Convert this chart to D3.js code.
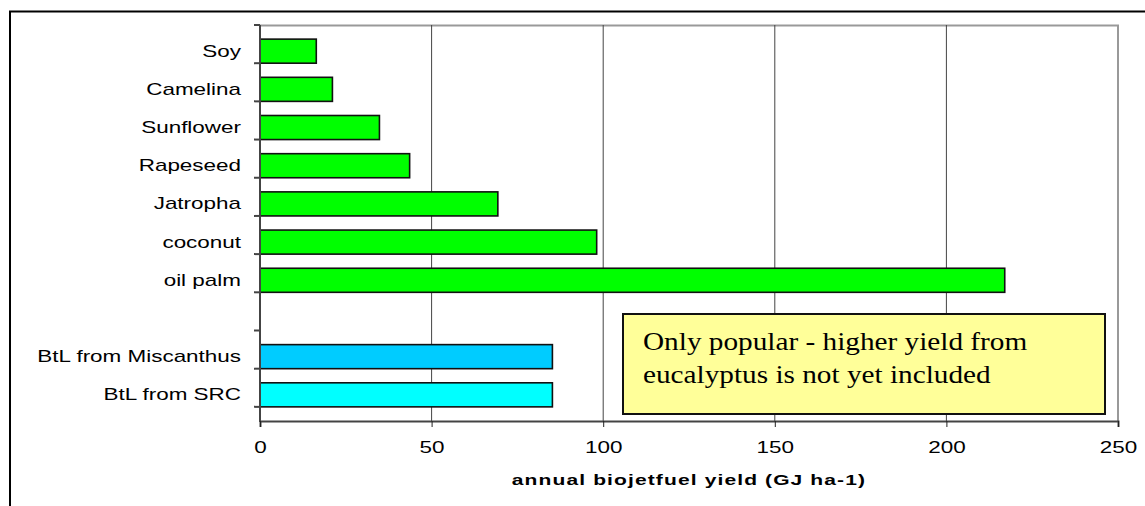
<!DOCTYPE html>
<html>
<head>
<meta charset="utf-8">
<script src="https://cdn.jsdelivr.net/npm/d3@7"></script>
<style>
  body { margin: 0; background: #fff; }
  svg { display: block; font-family: "Liberation Sans", Arial, sans-serif; }
</style>
</head>
<body>
<svg width="1145" height="506"></svg>
<script>
  // chart data
  const categories = ['Soy', 'Camelina', 'Sunflower', 'Rapeseed', 'Jatropha', 'coconut', 'oil palm', 'gap', 'BtL from Miscanthus', 'BtL from SRC'];
  const yields = [16.4, 21.1, 34.8, 43.6, 69.3, 98.1, 217, null, 85.2, 85.2];
  const barColors = ['#00ff00', '#00ff00', '#00ff00', '#00ff00', '#00ff00', '#00ff00', '#00ff00', null, '#00ccff', '#00ffff'];
  const xTicks = [0, 50, 100, 150, 200, 250];
  const xAxisLabel = 'annual biojetfuel yield (GJ ha-1)';
  const noteLines = ['Only popular - higher yield from', 'eucalyptus is not yet included'];

  const data = categories.map((c, i) => ({ cat: c, value: yields[i], color: barColors[i] }))
    .filter(d => d.value !== null);

  const svg = d3.select('svg');
  const W = +svg.attr('width');
  const H = +svg.attr('height');

  // text in the picture is stretched sideways: widen each text to match
  const stretch = (sel, k) => sel.each(function () {
    const w = this.getComputedTextLength();
    if (w > 0) d3.select(this).attr('textLength', w * k).attr('lengthAdjust', 'spacingAndGlyphs');
  });

  // outer frame: only its top and left sides fall inside the picture
  svg.append('path')
    .attr('d', `M${W},11.5H10V${H}`)
    .attr('fill', 'none').attr('stroke', '#000').attr('stroke-width', 2);

  const margin = { top: 25, left: 260 };
  const innerWidth = 1118 - 260;
  const innerHeight = 421 - 25;

  const g = svg.append('g')
    .attr('transform', `translate(${margin.left},${margin.top})`);

  const xScale = d3.scaleLinear().domain([0, 250]).range([0, innerWidth]);
  const yScale = d3.scaleBand().domain(categories).range([0, innerHeight]).padding(0.37);

  // plot area top/right border
  g.append('path')
    .attr('d', `M0,0.5H${innerWidth}V${innerHeight}`)
    .attr('fill', 'none').attr('stroke', '#999').attr('stroke-width', 2);

  // vertical gridlines
  g.selectAll('.grid').data(xTicks.slice(1, -1))
    .enter().append('line')
      .attr('class', 'grid')
      .attr('x1', d => xScale(d)).attr('x2', d => xScale(d))
      .attr('y1', 0).attr('y2', innerHeight)
      .attr('stroke', '#444').attr('stroke-width', 1);

  // bars
  g.selectAll('.bar').data(data)
    .enter().append('rect')
      .attr('class', 'bar')
      .attr('x', 0)
      .attr('y', d => yScale(d.cat))
      .attr('width', d => xScale(d.value))
      .attr('height', yScale.bandwidth())
      .attr('fill', d => d.color)
      .attr('stroke', '#111').attr('stroke-width', 1.6);

  // y axis: labels at band centres, ticks at band edges
  const yAxisG = g.append('g').call(d3.axisLeft(yScale)
    .tickValues(categories.filter(c => c !== 'gap'))
    .tickSize(0).tickPadding(19));
  yAxisG.select('.domain').remove();
  yAxisG.selectAll('text')
    .attr('fill', '#000')
    .style('font-size', '17px')
    .style('font-family', '"Liberation Sans", Arial, sans-serif')
    .call(stretch, 1.32);

  const step = yScale.step();
  g.selectAll('.ytick').data(d3.range(categories.length + 1))
    .enter().append('line')
      .attr('class', 'ytick')
      .attr('x1', -6).attr('x2', 0)
      .attr('y1', i => i * step).attr('y2', i => i * step)
      .attr('stroke', '#444').attr('stroke-width', 2);

  g.append('line')
    .attr('x1', 0).attr('x2', 0).attr('y1', 0).attr('y2', innerHeight + 1)
    .attr('stroke', '#444').attr('stroke-width', 2);

  // x axis
  const xAxisG = g.append('g')
    .attr('transform', `translate(0,${innerHeight})`)
    .call(d3.axisBottom(xScale).tickValues(xTicks).tickSize(6).tickPadding(14));
  xAxisG.select('.domain').attr('stroke', '#444').attr('stroke-width', 2);
  xAxisG.selectAll('.tick line').attr('stroke', '#222');
  xAxisG.selectAll('text')
    .attr('fill', '#000')
    .style('font-size', '17px')
    .style('font-family', '"Liberation Sans", Arial, sans-serif')
    .call(stretch, 1.32);

  g.append('text')
    .attr('x', innerWidth / 2)
    .attr('y', innerHeight + 64)
    .attr('text-anchor', 'middle')
    .style('font-size', '15px')
    .style('font-weight', 'bold')
    .style('letter-spacing', '0.8px')
    .text(xAxisLabel)
    .call(stretch, 1.4);

  // note box
  const note = svg.append('g');
  note.append('rect')
    .attr('x', 623).attr('y', 314)
    .attr('width', 482).attr('height', 100)
    .attr('fill', '#ffff99').attr('stroke', '#111').attr('stroke-width', 2);
  note.selectAll('text').data(noteLines)
    .enter().append('text')
      .attr('x', 643)
      .attr('y', (d, i) => 350 + i * 33)
      .style('font-family', '"Liberation Serif", "Times New Roman", serif')
      .style('font-size', '25px')
      .text(d => d)
      .call(stretch, 1.17);
</script>
</body>
</html>
